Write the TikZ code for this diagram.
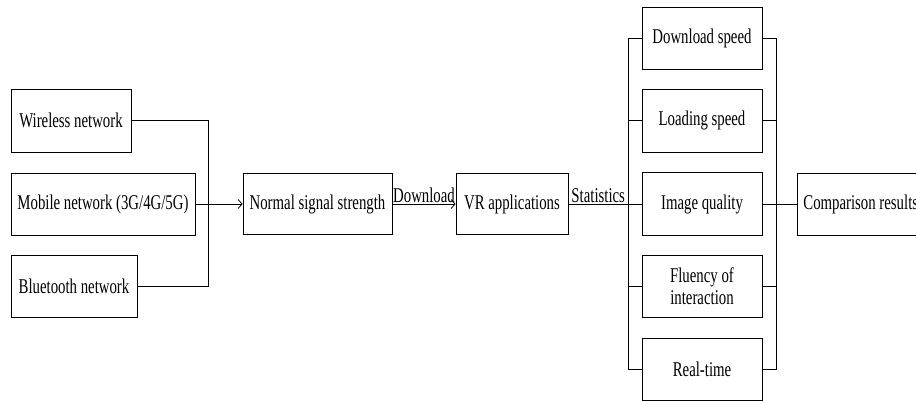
\documentclass[tikz,border=0pt]{standalone}
\usepackage{fontspec}
\setmainfont{Liberation Serif}[FakeStretch=0.705]
\usetikzlibrary{arrows.meta}
\begin{document}
\begin{tikzpicture}[x=1pt,y=-1pt,
  box/.style={draw,line width=0.8pt,rectangle,inner sep=0pt,align=center,
    font=\fontsize{21}{22}\selectfont},
  conn/.style={line width=0.8pt},
  arr/.style={conn,-{Straight Barb[length=4pt,width=9pt]}},
  lbl/.style={font=\fontsize{21}{22}\selectfont,inner sep=1pt,anchor=south}]
\useasboundingbox (0,0) rectangle (916,401);
% left inputs
\node[box,minimum width=120pt,minimum height=63pt] (wl) at (71,120.5) {Wireless network};
\node[box,minimum width=184pt,minimum height=62pt] (mob) at (103,204) {Mobile network (3G/4G/5G)};
\node[box,minimum width=126pt,minimum height=62pt] (bt) at (74,286) {Bluetooth network};
\node[box,minimum width=149pt,minimum height=61pt] (nss) at (317.5,204) {Normal signal strength};
\node[box,minimum width=112pt,minimum height=61pt] (vr) at (512,204) {VR applications};
% right criteria
\node[box,minimum width=120pt,minimum height=62pt] (ds) at (702,38) {Download speed};
\node[box,minimum width=120pt,minimum height=63pt] (ls) at (702,120.5) {Loading speed};
\node[box,minimum width=120pt,minimum height=63pt] (iq) at (702,204) {Image quality};
\node[box,minimum width=120pt,minimum height=62pt] (fl) at (702,286) {Fluency of\\interaction};
\node[box,minimum width=120pt,minimum height=62pt] (rt) at (702,369) {Real-time};
\node[box,minimum height=62pt,inner xsep=6pt,anchor=west] (cr) at (797,204) {Comparison results};
% bus coordinates
\coordinate (busA) at (208,204);
\coordinate (sL) at (628,204);
\coordinate (sR) at (776,204);
% connectors
\draw[conn] (wl.east) -| (busA);
\draw[conn] (bt.east) -| (busA);
\draw[arr] (mob.east) -- (nss.west);
\draw[arr] (nss.east) -- node[lbl]{Download} (vr.west);
\draw[conn] (vr.east) -- node[lbl]{Statistics} (sL);
\draw[conn] (ds.west) -| (sL);
\draw[conn] (rt.west) -| (sL);
\draw[conn] (ls.west) -- (ls.west -| sL);
\draw[conn] (fl.west) -- (fl.west -| sL);
\draw[conn] (iq.west) -- (sL);
\draw[conn] (ds.east) -| (sR);
\draw[conn] (rt.east) -| (sR);
\draw[conn] (ls.east) -- (ls.east -| sR);
\draw[conn] (fl.east) -- (fl.east -| sR);
\draw[conn] (iq.east) -- (sR);
\draw[conn] (sR) -- (cr.west);
\end{tikzpicture}
\end{document}
